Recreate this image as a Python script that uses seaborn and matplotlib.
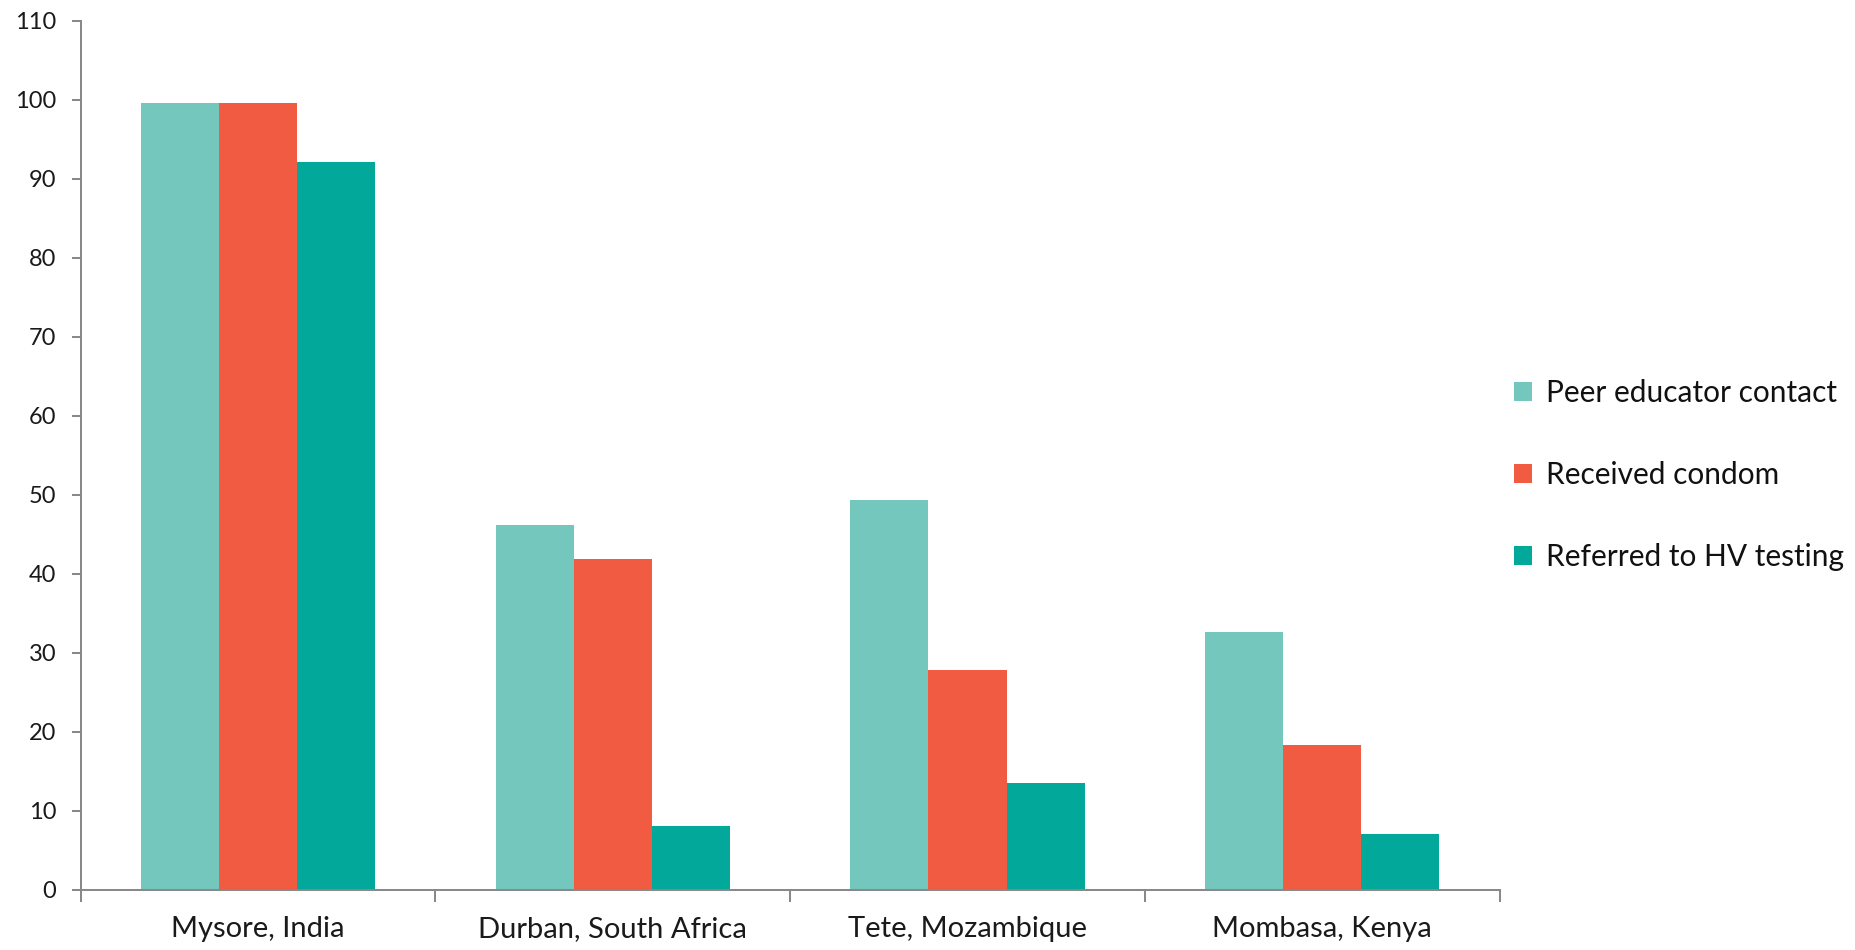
import matplotlib
matplotlib.use("Agg")
import matplotlib.pyplot as plt
import seaborn as sns
import pandas as pd
from matplotlib.patches import Patch

sites = ["Mysore, India", "Durban, South Africa", "Tete, Mozambique", "Mombasa, Kenya"]
series = ["Peer educator contact", "Received condom", "Referred to HV testing"]
peer_contact = [99.6, 46.2, 49.3, 32.6]
received_condom = [99.6, 41.9, 27.8, 18.4]
referred_testing = [92.1, 8.1, 13.5, 7.1]
y_ticks = list(range(0, 111, 10))

colors = ["#73C7BD", "#F05B42", "#02A89A"]

rows = []
for name, vals in zip(series, [peer_contact, received_condom, referred_testing]):
    for site, v in zip(sites, vals):
        rows.append({"site": site, "measure": name, "value": v})
df = pd.DataFrame(rows)

sns.set_theme(style="white")
plt.rcParams["font.family"] = ["Lato", "DejaVu Sans"]

fig = plt.figure(figsize=(18.56, 9.5), dpi=100)
ax = fig.add_axes([0.0434, 0.0632, 0.808 - 0.0434, 0.978 - 0.0632])

sns.barplot(data=df, x="site", y="value", hue="measure", order=sites,
            hue_order=series, palette=colors, width=0.66, gap=0,
            linewidth=0, saturation=1, legend=False, ax=ax)

ax.set_xlim(-0.5, len(sites) - 0.5)
ax.set_ylim(0, 110)
ax.set_yticks(y_ticks)
ax.set_xlabel("")
ax.set_ylabel("")

spine_color = "#898989"
for side in ["top", "right"]:
    ax.spines[side].set_visible(False)
for side in ["left", "bottom"]:
    ax.spines[side].set_color(spine_color)
    ax.spines[side].set_linewidth(1.45)

# category boundaries marked with downward ticks
ax.set_xticks([i - 0.5 for i in range(len(sites) + 1)], minor=True)
ax.tick_params(axis="x", which="minor", length=8.6, width=1.45, color=spine_color,
               direction="out", bottom=True)
ax.tick_params(axis="x", which="major", length=0, pad=19, labelsize=21,
               labelcolor="#1a1a1a")
ax.tick_params(axis="y", which="major", length=6.5, width=1.45, color=spine_color,
               direction="out", left=True, pad=11, labelsize=17, labelcolor="#1a1a1a")

handles = [Patch(facecolor=c, edgecolor="none", label=s) for c, s in zip(colors, series)]
fig.legend(handles=handles, loc="center left", bbox_to_anchor=(0.8015, 0.5),
           frameon=False, fontsize=21.5, handlelength=0.6, handleheight=0.6,
           handletextpad=0.45, labelspacing=1.8, labelcolor="#111111")

fig.savefig("out.png", dpi=100)
